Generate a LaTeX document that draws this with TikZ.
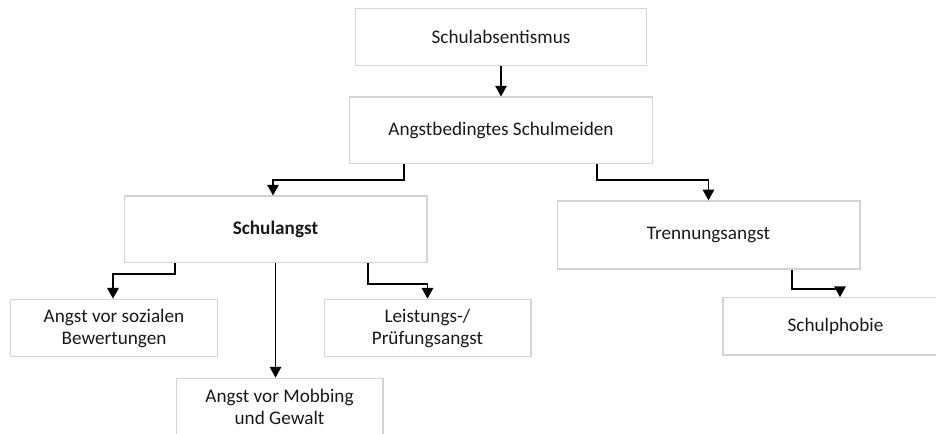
\documentclass[tikz,border=0pt]{standalone}
\usepackage{fontspec}
\setmainfont{Carlito}
\usetikzlibrary{arrows.meta}

\begin{document}
\begin{tikzpicture}[x=0.75pt, y=-0.75pt,
		entity/.style={draw=black!17, line width=1pt, rectangle, align=center, text=black!90, font=\fontsize{14.4}{16.5}\selectfont, inner sep=0pt},
		link/.style={line width=1.3pt, -{Triangle[width=8.5pt, length=8pt]}}]
		\clip (0,0) rectangle (936,434);
		\useasboundingbox (0,0) rectangle (936,434);
		\node[entity, minimum width=218pt, minimum height=43pt] (absent) at (501, 37) {Schulabsentismus};
		\node[entity, minimum width=227pt, minimum height=50pt] (meiden) at (501, 130.5) {Angstbedingtes Schulmeiden};
		\node[entity, minimum width=227pt, minimum height=50pt] (schulangst) at (275.5, 229.5) {\textbf{Schulangst}};
		\node[entity, minimum width=227pt, minimum height=51pt] (trennung) at (708.5, 235) {Trennungsangst};

		\node[entity, minimum width=155pt, minimum height=43pt] (sozial) at (114, 328) {Angst vor sozialen\\Bewertungen};
		\node[entity, minimum width=155pt, minimum height=43pt] (mobbing) at (279.5, 407) {Angst vor Mobbing\\und Gewalt};
		\node[entity, minimum width=155pt, minimum height=43pt] (leistung) at (427.5, 328) {Leistungs-/\\Prüfungsangst};
		\node[entity, minimum width=169pt, minimum height=43pt] (phobie) at (835.5, 326.5) {Schulphobie};

		\draw[link] (absent.south) -- (meiden.north);
		\draw[link] (meiden.south -| 404,0) -- (404,180) -| (schulangst.north -| 273,0);
		\draw[link] (meiden.south -| 597,0) -- (597,180) -| (trennung.north);
		\draw[link] (schulangst.south -| 175,0) -- (175,274) -| (sozial.north -| 113,0);
		\draw[link] (schulangst.south) -- (schulangst.south |- mobbing.north);
		\draw[link] (schulangst.south -| 368,0) -- (368,284) -| (leistung.north);
		\draw[link] (trennung.south -| 792,0) -- (792,289) -| (phobie.north -| 840,0);
	\end{tikzpicture}
\end{document}
